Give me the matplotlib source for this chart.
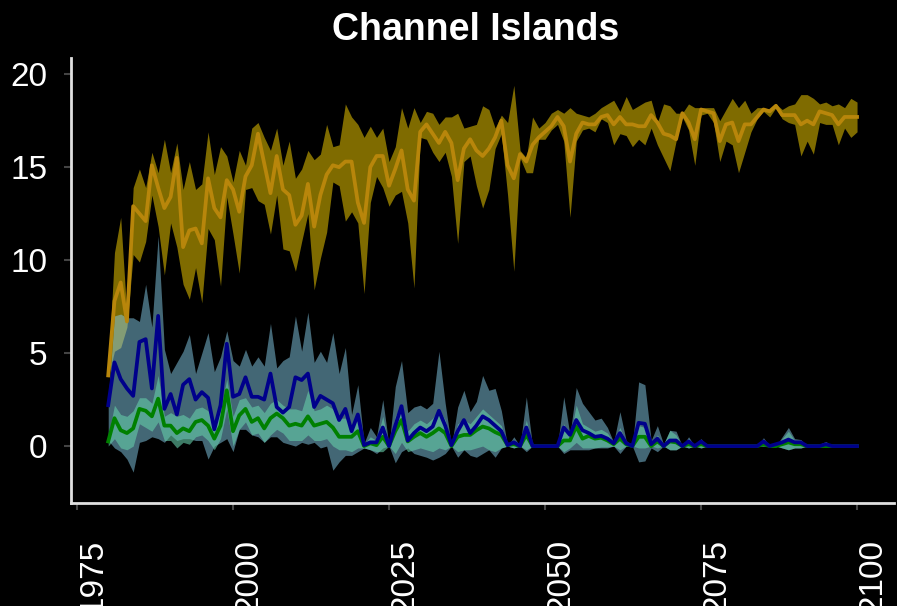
import numpy as np
import matplotlib
matplotlib.use("Agg")
import matplotlib.pyplot as plt

plt.rcParams['font.family'] = ['Liberation Sans', 'DejaVu Sans']

years = np.arange(1980, 2101)

# gold series (mean, upper, lower)
gold_mean = [3.8, 7.8, 8.8, 6.7, 12.9, 12.5, 12.1, 15.1, 13.9, 12.8,
             13.4, 15.5, 10.7, 11.6, 11.7, 10.9, 14.4, 12.8, 12.3, 14.3,
             13.8, 12.6, 14.5, 15.1, 16.8, 15.2, 13.6, 15.6, 13.8, 13.5,
             11.9, 12.4, 14.1, 11.8, 13.5, 14.6, 15.1, 15.0, 15.3, 15.3,
             13.1, 12.0, 15.0, 15.6, 15.6, 14.0, 14.9, 15.9, 13.8, 13.2,
             16.9, 17.3, 16.8, 16.3, 16.9, 16.3, 14.3, 16.0, 16.5, 15.9,
             15.6, 16.0, 16.6, 17.5, 15.1, 14.4, 15.7, 15.3, 16.2, 16.6,
             16.9, 17.2, 17.7, 17.2, 15.3, 16.8, 17.4, 17.3, 17.3, 17.7,
             17.8, 17.3, 17.7, 17.3, 17.3, 17.2, 17.2, 17.8, 17.4, 16.8,
             16.7, 16.5, 17.9, 17.4, 16.5, 18.1, 18.0, 17.9, 16.4, 17.3,
             17.4, 16.4, 17.3, 17.3, 17.7, 18.1, 18.0, 18.3, 17.8, 17.8,
             17.8, 17.3, 17.5, 17.3, 18.0, 17.9, 17.8, 17.3, 17.7, 17.7, 17.7]
gold_hi = [3.9, 10.4, 12.3, 7.0, 13.9, 14.9, 13.9, 15.8, 14.7, 16.5,
           14.7, 16.3, 13.8, 15.3, 13.8, 14.1, 16.9, 14.6, 16.1, 15.6,
           14.2, 15.9, 15.1, 17.1, 17.4, 16.6, 15.9, 17.1, 15.1, 16.4,
           14.4, 14.9, 15.9, 15.4, 15.7, 17.3, 16.1, 16.2, 18.4, 17.7,
           17.3, 16.6, 17.2, 16.6, 17.1, 15.3, 16.1, 18.2, 17.1, 18.2,
           17.4, 18.0, 17.9, 17.3, 17.7, 17.7, 17.9, 17.1, 17.2, 17.3,
           18.3, 18.1, 17.1, 17.8, 17.4, 19.4, 15.9, 15.5, 17.7, 17.1,
           17.4, 17.9, 18.1, 17.9, 18.2, 17.9, 17.8, 17.7, 17.9, 18.2,
           18.4, 18.6, 18.0, 18.8, 18.1, 18.3, 18.5, 18.6, 17.4, 18.4,
           18.3, 17.9, 17.9, 18.4, 18.2, 18.2, 18.2, 18.2, 17.5, 18.1,
           18.7, 18.2, 18.6, 17.9, 18.2, 18.2, 18.1, 18.4, 18.1, 18.3,
           18.4, 18.9, 18.9, 18.7, 18.4, 18.5, 18.3, 18.4, 18.2, 18.7, 18.5]
gold_lo = [3.7, 5.1, 5.3, 6.4, 10.3, 9.9, 11.0, 13.5, 11.8, 9.2,
           12.0, 10.7, 8.7, 7.9, 9.6, 7.7, 11.7, 11.1, 8.6, 13.4,
           11.4, 9.3, 13.8, 13.9, 13.2, 13.0, 11.4, 13.5, 10.6, 10.5,
           9.4, 11.0, 12.5, 8.4, 10.1, 11.5, 14.2, 14.0, 12.1, 12.6,
           12.0, 8.2, 13.1, 14.5, 13.9, 12.9, 13.5, 13.7, 12.0, 8.5,
           16.6, 16.5, 15.8, 15.3, 15.8, 14.5, 10.9, 15.3, 15.6, 14.0,
           12.8, 13.8, 16.0, 16.8, 13.5, 9.4, 15.5, 14.7, 14.7, 16.5,
           16.5, 17.0, 17.3, 16.4, 12.3, 16.4, 17.0, 17.1, 16.9, 17.6,
           17.4, 16.2, 16.8, 16.7, 16.1, 16.5, 16.2, 17.1, 16.2, 15.5,
           14.8, 16.4, 17.7, 17.0, 15.1, 17.8, 17.9, 17.4, 15.3, 16.4,
           16.2, 14.7, 15.8, 16.9, 17.6, 18.0, 17.7, 18.2, 17.6, 17.4,
           17.3, 15.6, 16.4, 15.7, 17.4, 17.3, 17.3, 16.2, 17.1, 16.6, 16.9]

# blue series
blue_mean = [2.2, 4.5, 3.6, 3.1, 2.7, 5.6, 5.75, 3.1, 7.0, 2.0,
             2.8, 1.7, 3.3, 3.6, 2.5, 2.9, 2.6, 0.9, 2.2, 5.5,
             2.65, 2.8, 3.7, 2.65, 2.65, 2.5, 3.9, 2.1, 1.8, 2.1,
             3.7, 3.55, 3.9, 2.1, 2.7, 2.5, 2.3, 1.4, 2.0, 0.8,
             1.7, 0.05, 0.2, 0.2, 1.0, 0.0, 1.1, 2.15, 0.3, 0.7,
             1.0, 0.8, 1.05, 1.9, 1.1, 0.05, 0.8, 1.4, 0.7, 1.1,
             1.6, 1.4, 1.1, 0.8, 0.05, 0.2, 0.0, 1.0, 0.0, 0.0,
             0.0, 0.0, 0.0, 1.0, 0.6, 1.4, 0.85, 0.7, 0.5, 0.55,
             0.4, 0.15, 0.7, 0.15, 0.0, 1.25, 1.2, 0.1, 0.4, 0.0,
             0.3, 0.3, 0.0, 0.25, 0.0, 0.25, 0.0, 0.0, 0.0, 0.0,
             0.0, 0.0, 0.0, 0.0, 0.0, 0.25, 0.0, 0.1, 0.2, 0.35,
             0.2, 0.2, 0.0, 0.0, 0.0, 0.1, 0.0, 0.0, 0.0, 0.0, 0.0]
blue_hi = [2.5, 7.0, 7.1, 6.9, 6.9, 6.7, 8.7, 6.4, 11.3, 5.2,
           3.9, 4.5, 5.1, 6.0, 3.9, 5.0, 6.1, 4.0, 4.8, 6.2,
           4.6, 4.3, 5.2, 4.3, 4.8, 4.3, 6.6, 4.2, 4.6, 4.8,
           7.0, 5.1, 7.2, 4.5, 5.1, 4.5, 6.1, 3.9, 5.3, 1.7,
           3.3, 0.15, 1.0, 0.5, 2.5, 0.0, 3.2, 4.6, 1.8, 2.1,
           2.2, 2.0, 2.3, 5.1, 2.3, 0.0, 2.1, 3.0, 1.85, 2.4,
           3.8, 3.0, 3.1, 1.9, 0.0, 0.5, 0.0, 2.65, 0.0, 0.0,
           0.0, 0.0, 0.0, 2.65, 0.6, 3.15, 2.3, 1.85, 1.4, 1.5,
           1.0, 0.2, 1.85, 0.3, 0.0, 3.45, 3.3, 0.3, 1.1, 0.1,
           0.85, 0.8, 0.0, 0.5, 0.0, 0.4, 0.0, 0.0, 0.0, 0.0,
           0.0, 0.0, 0.0, 0.0, 0.0, 0.45, 0.0, 0.0, 0.5, 1.0,
           0.4, 0.35, 0.0, 0.0, 0.1, 0.25, 0.0, 0.0, 0.0, 0.0, 0.0]
blue_lo = [0.3, -0.1, -0.3, -0.7, -1.4, 0.2, 0.3, 0.5, 0.4, 0.2,
           0.6, 0.3, 0.4, 0.4, 0.3, 0.3, -0.7, 0.0, 0.2, 0.4,
           -0.3, 0.9, 0.9, 0.6, 0.5, 0.2, 0.5, 0.5, 0.2, 0.1,
           0.0, 0.2, 0.1, 0.2, -0.1, 0.0, -1.3, -0.85, -0.5, -0.5,
           -0.3, -0.1, -0.2, -0.4, -0.1, 0.0, -0.9, -0.3, -0.1, -0.4,
           -0.5, -0.6, -0.75, -0.6, -0.4, 0.0, -0.6, -0.2, -0.5, -0.6,
           -0.4, -0.2, -0.6, -0.1, 0.0, -0.1, 0.0, -0.3, 0.0, 0.0,
           0.0, 0.0, 0.0, -0.4, -0.2, -0.2, -0.2, -0.2, -0.1, -0.1,
           -0.1, 0.0, -0.4, 0.0, 0.0, -0.85, -0.8, -0.1, -0.3, 0.0,
           -0.2, -0.2, 0.0, -0.1, 0.0, -0.1, 0.0, 0.0, 0.0, 0.0,
           0.0, 0.0, 0.0, 0.0, 0.0, 0.0, 0.0, 0.0, -0.1, -0.2,
           -0.1, -0.1, 0.0, 0.0, 0.0, 0.0, 0.0, 0.0, 0.0, 0.0, 0.0]

# green series
green_mean = [0.25, 1.5, 0.85, 0.7, 0.95, 2.0, 1.9, 1.6, 2.55, 1.1,
              1.1, 0.7, 0.95, 0.8, 1.3, 1.4, 1.1, 0.4, 1.1, 3.0,
              0.8, 1.65, 2.0, 1.3, 1.5, 0.95, 1.5, 1.75, 1.5, 1.1,
              1.2, 1.1, 1.6, 1.1, 1.2, 1.3, 1.0, 0.5, 0.5, 0.5,
              0.8, 0.0, 0.15, 0.05, 0.5, 0.0, 0.8, 1.4, 0.25, 0.5,
              0.7, 0.5, 0.7, 0.95, 0.7, 0.0, 0.5, 0.6, 0.6, 0.85,
              1.05, 0.95, 0.75, 0.6, 0.05, 0.1, 0.0, 0.6, 0.0, 0.0,
              0.0, 0.0, 0.0, 0.3, 0.3, 1.05, 0.4, 0.55, 0.4, 0.45,
              0.3, 0.1, 0.4, 0.1, 0.0, 0.5, 0.5, 0.0, 0.25, 0.0,
              0.25, 0.2, 0.0, 0.1, 0.0, 0.1, 0.0, 0.0, 0.0, 0.0,
              0.0, 0.0, 0.0, 0.0, 0.0, 0.1, 0.0, 0.0, 0.1, 0.2,
              0.1, 0.1, 0.0, 0.0, 0.0, 0.0, 0.0, 0.0, 0.0, 0.0, 0.0]
green_hi = [0.5, 2.2, 1.7, 1.6, 1.9, 2.6, 2.6, 2.3, 3.8, 1.6,
            1.8, 1.6, 1.7, 1.5, 2.0, 2.1, 1.9, 1.2, 1.9, 3.6,
            1.6, 2.5, 2.6, 2.1, 2.2, 1.8, 2.3, 2.5, 2.2, 2.0,
            2.0, 1.9, 3.0, 1.9, 2.0, 2.2, 2.0, 1.5, 1.5, 1.0,
            1.5, 0.1, 0.5, 0.3, 1.6, 0.0, 1.6, 2.3, 0.8, 1.2,
            1.4, 1.2, 1.5, 2.0, 1.4, 0.0, 1.2, 1.4, 1.2, 1.6,
            2.0, 1.7, 1.4, 1.1, 0.1, 0.3, 0.0, 1.4, 0.0, 0.0,
            0.0, 0.0, 0.0, 1.2, 0.5, 2.2, 1.2, 1.0, 0.8, 0.9,
            0.7, 0.2, 1.0, 0.2, 0.0, 1.1, 1.0, 0.1, 0.6, 0.1,
            0.85, 0.6, 0.0, 0.4, 0.0, 0.3, 0.0, 0.0, 0.0, 0.0,
            0.0, 0.0, 0.0, 0.0, 0.0, 0.3, 0.0, 0.0, 0.4, 0.8,
            0.3, 0.3, 0.0, 0.0, 0.0, 0.1, 0.0, 0.0, 0.0, 0.0, 0.0]
green_lo = [0.0, 0.4, -0.1, -0.2, 0.0, 1.2, 1.0, 0.8, 1.3, 0.3,
            0.3, -0.1, 0.2, 0.1, 0.5, 0.6, 0.3, -0.2, 0.4, 2.0,
            0.0, 0.9, 1.3, 0.6, 0.7, 0.2, 0.6, 0.9, 0.7, 0.3,
            0.3, 0.3, 0.6, 0.3, 0.3, 0.4, 0.0, -0.2, -0.2, -0.3,
            -0.1, -0.1, -0.2, -0.3, -0.3, 0.0, -0.4, 0.2, -0.3, -0.2,
            -0.1, -0.2, -0.3, -0.1, -0.2, 0.0, -0.3, -0.2, -0.2, -0.1,
            0.0, -0.2, -0.3, -0.1, 0.0, -0.1, 0.0, -0.2, 0.0, 0.0,
            0.0, 0.0, 0.0, -0.3, -0.1, 0.2, -0.1, -0.1, -0.1, -0.05,
            -0.05, 0.0, -0.2, 0.0, 0.0, -0.1, -0.1, 0.0, -0.1, 0.0,
            -0.2, -0.2, 0.0, -0.1, 0.0, -0.1, 0.0, 0.0, 0.0, 0.0,
            0.0, 0.0, 0.0, 0.0, 0.0, 0.0, 0.0, 0.0, -0.1, -0.2,
            -0.1, -0.1, 0.0, 0.0, 0.0, 0.0, 0.0, 0.0, 0.0, 0.0, 0.0]

fig = plt.figure(figsize=(8.97, 6.06), dpi=100, facecolor='black')
ax = fig.add_axes([0.0789, 0.170, 0.9183, 0.734], facecolor='black')

# bands first, then the lines on top
ax.fill_between(years, gold_lo, gold_hi, color='gold', alpha=0.5, lw=0)
ax.fill_between(years, blue_lo, blue_hi, color='skyblue', alpha=0.5, lw=0)
ax.fill_between(years, green_lo, green_hi, color='mediumaquamarine', alpha=0.6, lw=0)
ax.plot(years, gold_mean, color='darkgoldenrod', lw=2.7)
ax.plot(years, green_mean, color='green', lw=2.7)
ax.plot(years, blue_mean, color='darkblue', lw=2.7)

ax.set_xlim(1974, 2106)
ax.set_ylim(-3.06, 20.86)
ax.set_xticks([1975, 2000, 2025, 2050, 2075, 2100])
ax.set_yticks([0, 5, 10, 15, 20])

for side in ['top', 'right']:
    ax.spines[side].set_visible(False)
for side in ['left', 'bottom']:
    ax.spines[side].set_color('#e0e0e0')
    ax.spines[side].set_linewidth(2)

ax.tick_params(axis='y', colors='#444444', labelcolor='white', labelsize=24,
               length=5, width=1.5, pad=12)
ax.tick_params(axis='x', colors='#444444', labelcolor='white', labelsize=24,
               length=5, width=1.5, pad=21, labelrotation=90)
for lbl in ax.get_xticklabels():
    lbl.set_horizontalalignment('left')

ax.set_title('Channel Islands', color='white', fontsize=27, fontweight='bold',
             pad=13, x=0.491)

fig.savefig('out.png', dpi=100, facecolor='black')
